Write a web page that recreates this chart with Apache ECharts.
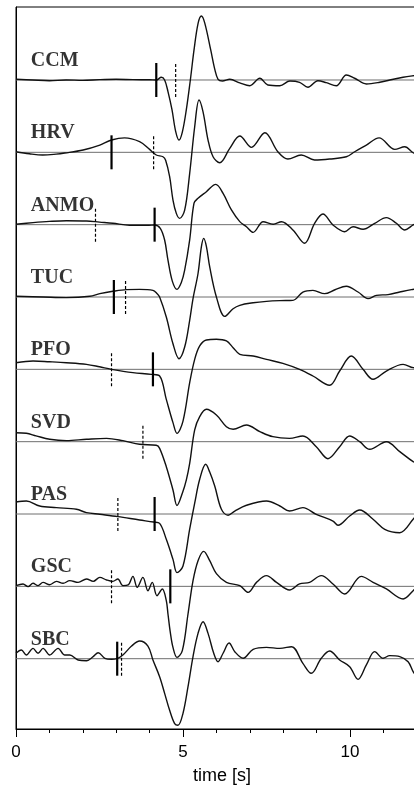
<!DOCTYPE html>
<html>
<head>
<meta charset="utf-8">
<script src="https://cdn.jsdelivr.net/npm/echarts@6/dist/echarts.min.js"></script>
<style>
html,body{margin:0;padding:0;background:#fff;}
#chart{width:414px;height:785px;}
</style>
</head>
<body>
<div id="chart"></div>
<script>
// ---- data ----
const stations = ['CCM','HRV','ANMO','TUC','PFO','SVD','PAS','GSC','SBC'];
const offsets  = [8, 7, 6, 5, 4, 3, 2, 1, 0];
const xTickValues = [0, 5, 10];
// picks (s): solid and dashed marks, null = none
const solidPicks  = [4.20, 2.86, 4.15, 2.93, 4.10, null, 4.15, 4.62, 3.03];
const dashedPicks = [4.78, 4.12, 2.38, 3.28, 2.86, 3.80, 3.05, 2.86, 3.16];

// traces: [time (s), amplitude (trace spacing units)]
const traceCCM = [[0,0.01],[0.5,0.0],[1.0,-0.01],[1.5,0],[2.0,-0.005],[2.5,0.005],[3.0,0.01],[3.5,0.005],[4.0,0.003],[4.2,0.0],[4.35,0.037],[4.45,0.0],[4.55,-0.16],[4.67,-0.41],[4.78,-0.71],[4.88,-0.83],[4.98,-0.72],[5.10,-0.41],[5.22,0.0],[5.33,0.415],[5.45,0.78],[5.55,0.885],[5.65,0.79],[5.83,0.415],[5.95,0.15],[6.05,0.01],[6.18,-0.014],[6.40,0.01],[6.7,-0.04],[7.00,-0.079],[7.30,0.024],[7.54,-0.069],[7.90,-0.079],[8.20,-0.014],[8.49,-0.032],[8.74,-0.10],[9.04,-0.01],[9.29,-0.037],[9.59,-0.079],[9.89,0.069],[10.14,0.024],[10.49,-0.055],[10.89,-0.032],[11.19,0],[11.59,0.037],[11.89,0.059],[12,0.065]];
const traceHRV = [[0,0.008],[0.4,-0.02],[0.8,-0.037],[1.2,-0.025],[1.46,-0.01],[2.01,0.032],[2.51,0.10],[2.86,0.17],[3.25,0.20],[3.70,0.147],[4.00,0.041],[4.20,-0.037],[4.40,-0.061],[4.48,-0.11],[4.60,-0.337],[4.70,-0.66],[4.80,-0.844],[4.90,-0.913],[5.05,-0.80],[5.20,-0.29],[5.35,0.354],[5.48,0.723],[5.60,0.56],[5.75,0.17],[5.90,-0.061],[6.10,-0.144],[6.40,0.055],[6.70,0.225],[7.05,0.069],[7.45,0.271],[7.84,0.008],[8.14,-0.093],[8.54,-0.037],[8.94,-0.106],[9.39,-0.093],[9.89,-0.061],[10.14,0.008],[10.49,0.10],[10.87,0.20],[11.34,0.041],[11.64,0.077],[11.89,-0.006],[12,-0.02]];
const traceANMO = [[0,0.006],[0.51,0.028],[1.0,0.045],[1.51,0.055],[2.11,0.051],[2.5,0.035],[2.90,0.019],[3.40,-0.008],[3.98,-0.008],[4.15,-0.004],[4.32,-0.05],[4.45,-0.212],[4.55,-0.49],[4.68,-0.78],[4.82,-0.894],[4.95,-0.80],[5.05,-0.63],[5.20,-0.21],[5.33,0.297],[5.45,0.365],[5.70,0.456],[5.98,0.557],[6.20,0.433],[6.45,0.203],[6.70,0.042],[6.90,-0.028],[7.10,-0.106],[7.40,0.041],[7.70,0.006],[7.95,0.041],[8.29,-0.073],[8.64,-0.257],[8.94,0.019],[9.19,0.147],[9.49,-0.004],[9.84,-0.097],[10.09,-0.028],[10.39,-0.064],[10.74,0.019],[11.09,0.097],[11.39,0.019],[11.64,-0.073],[11.89,-0.004],[12,0.02]];
const traceTUC = [[0,0.01],[0.81,0],[1.51,-0.008],[2.21,0.01],[2.51,0.047],[2.90,0.079],[3.31,0.102],[3.70,0.105],[4.10,0.092],[4.22,0.05],[4.30,0],[4.50,-0.277],[4.70,-0.646],[4.88,-0.853],[5.05,-0.692],[5.20,-0.322],[5.30,-0.022],[5.45,0.325],[5.55,0.694],[5.62,0.81],[5.70,0.70],[5.80,0.415],[6.00,0],[6.25,-0.268],[6.50,-0.162],[6.70,-0.115],[7.10,-0.08],[7.50,-0.06],[7.90,-0.05],[8.29,-0.046],[8.59,0.069],[8.89,0.092],[9.24,0.046],[9.55,0.1],[9.89,0.148],[10.24,0.069],[10.54,-0.023],[10.79,0.023],[11.14,0.033],[11.49,0.069],[11.84,0.102],[12,0.11]];
const tracePFO = [[0,0.092],[0.51,0.115],[1.0,0.105],[1.51,0.092],[2.11,0.069],[2.5,0.035],[2.86,0],[3.50,-0.046],[4.05,-0.069],[4.30,-0.092],[4.50,-0.415],[4.70,-0.737],[4.82,-0.885],[5.00,-0.715],[5.20,-0.184],[5.35,0.138],[5.50,0.323],[5.70,0.406],[6.00,0.415],[6.30,0.392],[6.50,0.3],[6.70,0.208],[7.10,0.184],[7.50,0.138],[7.99,0.083],[8.49,0],[8.89,-0.092],[9.39,-0.221],[9.69,-0.023],[10.04,0.184],[10.39,0],[10.69,-0.138],[11.09,-0.023],[11.59,0.069],[11.89,0.023],[12,0.02]];
const traceSVD = [[0,0.124],[0.31,0.116],[0.6,0.08],[1.01,0.033],[1.51,0.014],[2.11,0.033],[2.71,0.046],[3.20,0.014],[3.70,-0.036],[4.20,-0.05],[4.30,-0.092],[4.50,-0.346],[4.70,-0.668],[4.82,-0.883],[4.99,-0.70],[5.10,-0.529],[5.20,-0.30],[5.35,0.162],[5.50,0.346],[5.70,0.448],[6.00,0.369],[6.30,0.207],[6.50,0.171],[6.90,0.231],[7.30,0.139],[7.69,0.069],[8.19,0.046],[8.59,0.079],[8.99,-0.069],[9.34,-0.235],[9.69,-0.069],[9.99,0.079],[10.29,0],[10.59,-0.105],[11.09,0],[11.49,-0.138],[11.89,-0.276],[12,-0.29]];
const tracePAS = [[0,0.166],[0.31,0.18],[0.71,0.11],[1.21,0.088],[1.81,0.065],[2.11,0.019],[2.51,-0.004],[3.05,-0.036],[3.70,-0.083],[4.12,-0.111],[4.30,-0.13],[4.50,-0.35],[4.70,-0.627],[4.82,-0.81],[5.00,-0.719],[5.20,-0.21],[5.35,0.15],[5.50,0.48],[5.68,0.687],[5.80,0.58],[5.95,0.387],[6.15,0.065],[6.35,-0.018],[6.55,0.041],[6.90,0.121],[7.50,0.18],[7.90,0.111],[8.19,0.041],[8.59,0.088],[8.99,-0.004],[9.49,-0.097],[9.64,-0.156],[9.99,-0.028],[10.29,0.055],[10.69,-0.073],[11.04,-0.212],[11.49,-0.258],[11.89,-0.073],[12,0]];
const traceGSC = [[0,0.01],[0.21,0.033],[0.36,-0.004],[0.51,0.042],[0.66,0.01],[0.81,0.055],[1.01,0.023],[1.21,0.069],[1.41,0.042],[1.61,0.079],[1.86,0.055],[2.11,0.102],[2.31,0.069],[2.51,0.124],[2.71,0.088],[2.90,0.069],[3.05,0.102],[3.20,0.01],[3.36,0.02],[3.50,0.138],[3.63,-0.014],[3.80,0.124],[3.95,-0.06],[4.08,0.055],[4.22,-0.129],[4.38,-0.036],[4.50,-0.198],[4.55,-0.382],[4.62,-0.636],[4.70,-0.844],[4.82,-0.982],[4.98,-0.889],[5.15,-0.382],[5.30,0.079],[5.45,0.355],[5.62,0.484],[5.80,0.355],[6.00,0.176],[6.30,0.055],[6.70,0.01],[6.95,-0.083],[7.20,0.055],[7.50,0.148],[7.80,0.055],[8.19,-0.05],[8.49,0.033],[8.79,0.055],[9.14,0.148],[9.49,0.033],[9.84,-0.105],[10.34,0.138],[10.69,0.055],[11.09,-0.036],[11.59,-0.174],[11.89,-0.06],[12,0.0]];
const traceSBC = [[0,0.075],[0.16,0.12],[0.31,0.051],[0.51,0.143],[0.66,0.075],[0.81,0.143],[1.01,0.051],[1.26,0.143],[1.46,0.051],[1.61,0.051],[1.86,-0.018],[2.11,-0.028],[2.31,0.028],[2.46,0.083],[2.66,0.006],[2.86,-0.008],[3.02,0],[3.20,0.051],[3.46,0.175],[3.70,0.244],[3.95,0.175],[4.10,-0.018],[4.30,-0.249],[4.45,-0.479],[4.60,-0.714],[4.75,-0.898],[4.85,-0.92],[5.00,-0.755],[5.15,-0.387],[5.30,0.03],[5.45,0.35],[5.60,0.51],[5.75,0.35],[5.92,0.075],[6.05,-0.042],[6.20,0.075],[6.38,0.216],[6.55,0.097],[6.80,0.006],[7.10,0.13],[7.50,0.157],[7.90,0.143],[8.25,0.166],[8.59,-0.064],[8.84,-0.202],[9.14,0.006],[9.39,0.106],[9.69,-0.018],[9.99,-0.111],[10.24,-0.286],[10.49,-0.087],[10.74,0.097],[10.99,0.006],[11.19,0.042],[11.49,0.028],[11.74,-0.042],[11.89,-0.18],[12,-0.25]];
const traces = [traceCCM, traceHRV, traceANMO, traceTUC, tracePFO, traceSVD, tracePAS, traceGSC, traceSBC];

// ---- chart ----
// axis runs to 15 s; the part past ~12 s lies outside the 414 px window
const X_MIN = 0, X_AXIS_MAX = 15, X_DATA_MAX = 12;
const PICK_HALF = 0.235;
const LABEL_T = 0.46, LABEL_DY = 0.26;

const series = [];
stations.forEach((name, i) => {
  const off = offsets[i];
  series.push({
    type: 'line', silent: true, symbol: 'none', z: 1,
    data: [[X_MIN, off], [X_DATA_MAX, off]],
    lineStyle: { color: '#6e6e6e', width: 1 }
  });
  series.push({
    type: 'line', silent: true, symbol: 'none', z: 3, smooth: 0.35,
    data: traces[i].map(p => [p[0], off + p[1]]),
    lineStyle: { color: '#111', width: 1.4 }
  });
  if (solidPicks[i] !== null) {
    series.push({
      type: 'line', silent: true, symbol: 'none', z: 4,
      data: [[solidPicks[i], off - PICK_HALF], [solidPicks[i], off + PICK_HALF]],
      lineStyle: { color: '#000', width: 2.2 }
    });
  }
  if (dashedPicks[i] !== null) {
    series.push({
      type: 'line', silent: true, symbol: 'none', z: 4,
      data: [[dashedPicks[i], off - PICK_HALF], [dashedPicks[i], off + PICK_HALF]],
      lineStyle: { color: '#000', width: 1.2, type: [3, 2] }
    });
  }
  series.push({
    type: 'scatter', silent: true, symbolSize: 1, z: 5,
    itemStyle: { color: 'rgba(0,0,0,0)' },
    data: [[LABEL_T, off + LABEL_DY]],
    label: {
      show: true, position: [0, 0], align: 'left', verticalAlign: 'middle',
      formatter: name, color: '#000',
      fontFamily: 'Liberation Serif', fontWeight: 'bold', fontSize: 20
    }
  });
});

const chart = echarts.init(document.getElementById('chart'), null, { renderer: 'canvas' });
chart.setOption({
  animation: false,
  backgroundColor: '#fff',
  grid: { left: 16, right: -103, top: 7, bottom: 56, outerBoundsMode: 'none', containLabel: false,
    show: true, borderColor: '#000', borderWidth: 1, backgroundColor: 'transparent' },
  xAxis: {
    type: 'value', min: X_MIN, max: X_AXIS_MAX, interval: 5, position: 'bottom',
    axisLine: { show: true, onZero: false, lineStyle: { color: '#000', width: 1 } },
    axisTick: { show: true, inside: false, length: 8, lineStyle: { color: '#000' } },
    minorTick: { show: true, splitNumber: 5, length: 4, lineStyle: { color: '#000', width: 1 } },
    axisLabel: { show: true, margin: 15, color: '#000', fontFamily: 'Liberation Sans', fontSize: 17,
      formatter: v => (xTickValues.indexOf(v) >= 0 ? String(v) : '') },
    splitLine: { show: false }, minorSplitLine: { show: false },
    name: 'time [s]', nameLocation: 'middle', nameGap: 38,
    nameTextStyle: { color: '#000', fontFamily: 'Liberation Sans', fontSize: 18, padding: [0, 89, 0, 0] }
  },
  yAxis: {
    type: 'value', min: -0.972, max: 9.009,
    axisLine: { show: true, lineStyle: { color: '#000', width: 1 } },
    axisTick: { show: false }, axisLabel: { show: false }, splitLine: { show: false }
  },
  series: series
});
</script>
</body>
</html>
